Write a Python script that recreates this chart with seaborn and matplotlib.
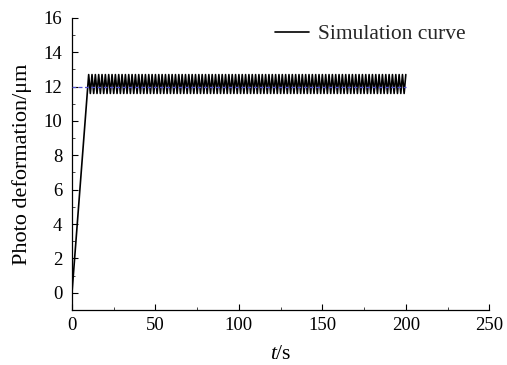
import matplotlib
matplotlib.use("Agg")
import matplotlib.pyplot as plt
import seaborn as sns
import pandas as pd
import numpy as np
from matplotlib.ticker import MultipleLocator

# ---- data ----
rise_t = [0, 10]
rise_y = [0.0, 12.7]
# oscillation from t=10 s to t=200 s, 1 s steps, alternating peak/trough
osc_t = list(range(10, 201))
osc_y = [
    12.7, 11.6, 12.7, 11.6, 12.7, 11.6, 12.7, 11.6, 12.7, 11.6,
    12.7, 11.6, 12.7, 11.6, 12.7, 11.6, 12.7, 11.6, 12.7, 11.6,
    12.7, 11.6, 12.7, 11.6, 12.7, 11.6, 12.7, 11.6, 12.7, 11.6,
    12.7, 11.6, 12.7, 11.6, 12.7, 11.6, 12.7, 11.6, 12.7, 11.6,
    12.7, 11.6, 12.7, 11.6, 12.7, 11.6, 12.7, 11.6, 12.7, 11.6,
    12.7, 11.6, 12.7, 11.6, 12.7, 11.6, 12.7, 11.6, 12.7, 11.6,
    12.7, 11.6, 12.7, 11.6, 12.7, 11.6, 12.7, 11.6, 12.7, 11.6,
    12.7, 11.6, 12.7, 11.6, 12.7, 11.6, 12.7, 11.6, 12.7, 11.6,
    12.7, 11.6, 12.7, 11.6, 12.7, 11.6, 12.7, 11.6, 12.7, 11.6,
    12.7, 11.6, 12.7, 11.6, 12.7, 11.6, 12.7, 11.6, 12.7, 11.6,
    12.7, 11.6, 12.7, 11.6, 12.7, 11.6, 12.7, 11.6, 12.7, 11.6,
    12.7, 11.6, 12.7, 11.6, 12.7, 11.6, 12.7, 11.6, 12.7, 11.6,
    12.7, 11.6, 12.7, 11.6, 12.7, 11.6, 12.7, 11.6, 12.7, 11.6,
    12.7, 11.6, 12.7, 11.6, 12.7, 11.6, 12.7, 11.6, 12.7, 11.6,
    12.7, 11.6, 12.7, 11.6, 12.7, 11.6, 12.7, 11.6, 12.7, 11.6,
    12.7, 11.6, 12.7, 11.6, 12.7, 11.6, 12.7, 11.6, 12.7, 11.6,
    12.7, 11.6, 12.7, 11.6, 12.7, 11.6, 12.7, 11.6, 12.7, 11.6,
    12.7, 11.6, 12.7, 11.6, 12.7, 11.6, 12.7, 11.6, 12.7, 11.6,
    12.7, 11.6, 12.7, 11.6, 12.7, 11.6, 12.7, 11.6, 12.7, 11.6,
    12.7,
]
ref_t = [0, 200]
ref_y = [12, 12]
x_ticks = [0, 50, 100, 150, 200, 250]
y_ticks = [0, 2, 4, 6, 8, 10, 12, 14, 16]

sns.set_theme(style="white")
plt.rcParams["font.family"] = ["Liberation Serif", "DejaVu Serif"]
plt.rcParams["mathtext.fontset"] = "custom"
plt.rcParams["mathtext.it"] = "Liberation Serif:italic"
plt.rcParams["mathtext.rm"] = "Liberation Serif"

curve = pd.DataFrame({"t": rise_t + osc_t[1:], "y": rise_y + osc_y[1:]})
ref = pd.DataFrame({"t": ref_t, "y": ref_y})

fig = plt.figure(figsize=(5.07, 3.65), dpi=100)
ax = fig.add_axes([0.142, 0.151, 0.823, 0.800])

sns.lineplot(data=curve, x="t", y="y", ax=ax, color="black", lw=1.2,
             label="Simulation curve", sort=False)
sns.lineplot(data=ref, x="t", y="y", ax=ax, color="#5050d0", lw=0.9,
             linestyle=(0, (3, 2)), label="_nolegend_", zorder=3)

ax.set_xlim(0, 250)
ax.set_ylim(-1, 16)
ax.set_xticks(x_ticks)
ax.set_yticks(y_ticks)
ax.xaxis.set_minor_locator(MultipleLocator(25))
ax.yaxis.set_minor_locator(MultipleLocator(1))
ax.tick_params(which="major", direction="in", length=4, width=0.8,
               labelsize=13.5, colors="black", bottom=True, left=True)
ax.tick_params(axis="x", which="major", pad=5)
ax.tick_params(axis="y", which="major", pad=7)
ax.tick_params(which="minor", direction="in", length=2, width=0.6,
               bottom=True, left=True)
for s in ["top", "right"]:
    ax.spines[s].set_visible(False)
for s in ["left", "bottom"]:
    ax.spines[s].set_color("black")
    ax.spines[s].set_linewidth(0.9)

ax.set_xlabel(r"$\mathit{t}$/s", fontsize=15.5, color="black", labelpad=8)
ax.set_ylabel("Photo deformation/μm", fontsize=16, color="black", labelpad=8)

leg = ax.legend(loc="upper right", bbox_to_anchor=(0.99, 1.045), frameon=False,
                fontsize=15.5, handlelength=1.6, handletextpad=0.4)

fig.savefig("out.png", dpi=100)
